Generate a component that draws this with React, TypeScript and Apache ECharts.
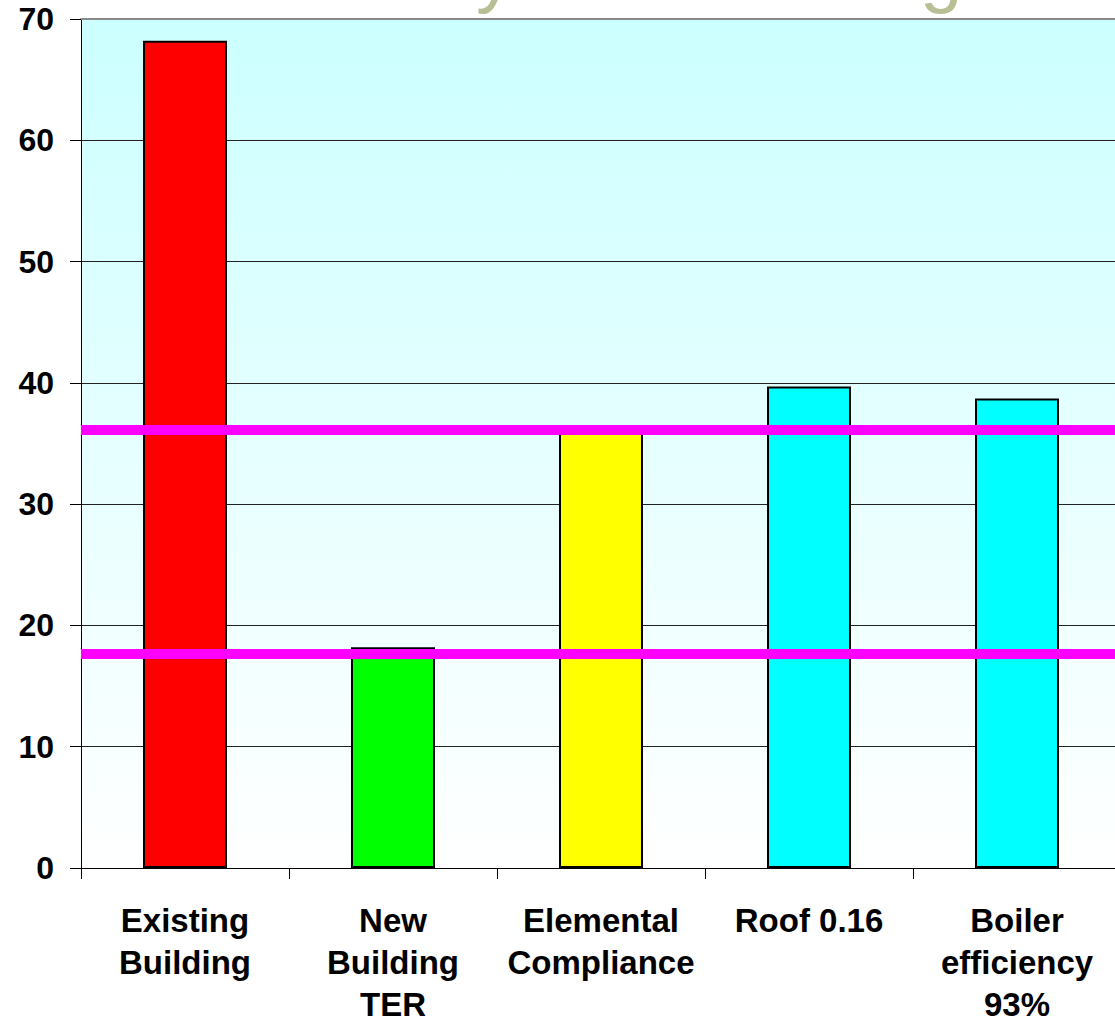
import React, { useEffect, useRef } from "react";
import * as echarts from "echarts";

const categories = ["Existing\nBuilding", "New\nBuilding\nTER", "Elemental\nCompliance", "Roof 0.16", "Boiler\nefficiency\n93%"];
const values = [68.2, 18.2, 36.2, 39.7, 38.7];
const barColors = ["#ff0000", "#00ff00", "#ffff00", "#00ffff", "#00ffff"];
const targetLines = [36.15, 17.7];
const titleGlyphs = ["y", "g"];

export default function App() {
  const ref = useRef<HTMLDivElement>(null);
  useEffect(() => {
    if (!ref.current) return;
    const chart = echarts.init(ref.current, null, { renderer: "svg" });
    const font = "'Liberation Sans', Arial, sans-serif";
    chart.setOption({
      animation: false,
      backgroundColor: "#ffffff",
      textStyle: { fontFamily: font },
      grid: {
        left: 81,
        top: 19,
        width: 1040,
        height: 849,
        show: true,
        borderWidth: 0,
        outerBoundsMode: "none",
        containLabel: false,
        backgroundColor: new echarts.graphic.LinearGradient(0, 0, 0, 1, [
          { offset: 0, color: "#ccffff" },
          { offset: 1, color: "#ffffff" },
        ]),
      },
      graphic: [
        {
          type: "text",
          left: 476,
          top: -67,
          z: 0,
          style: { text: titleGlyphs[0], font: `76px ${font}`, fill: "#b8bf94" },
        },
        {
          type: "text",
          left: 920,
          top: -67,
          z: 0,
          style: { text: titleGlyphs[1], font: `76px ${font}`, fill: "#b8bf94" },
        },
      ],
      xAxis: [
        {
          type: "category",
          data: categories,
          axisLine: { lineStyle: { color: "#000", width: 1 } },
          axisTick: { show: true, length: 11, lineStyle: { color: "#000" } },
          axisLabel: {
            interval: 0,
            margin: 31,
            color: "#000",
            fontSize: 33,
            fontWeight: "bold",
            fontFamily: font,
            lineHeight: 42,
          },
        },
        {
          type: "category",
          position: "top",
          data: categories,
          axisLine: { show: true, lineStyle: { color: "#888", width: 2 } },
          axisTick: { show: false },
          axisLabel: { show: false },
        },
      ],
      yAxis: {
        type: "value",
        min: 0,
        max: 70,
        interval: 10,
        axisLine: { show: true, lineStyle: { color: "#000", width: 1 } },
        axisTick: { show: true, length: 11, lineStyle: { color: "#000" } },
        splitLine: { show: true, lineStyle: { color: "#222", width: 1 } },
        axisLabel: {
          margin: 27,
          color: "#000",
          fontSize: 32,
          fontWeight: "bold",
          fontFamily: font,
        },
      },
      series: [
        {
          type: "bar",
          barWidth: 84,
          data: values.map((v, i) => ({
            value: v,
            itemStyle: { color: barColors[i], borderColor: "#000", borderWidth: 2 },
          })),
          markLine: {
            silent: true,
            symbol: "none",
            label: { show: false },
            lineStyle: { color: "#ff00ff", width: 10, type: "solid" },
            data: targetLines.map((y) => ({ yAxis: y })),
          },
        },
      ],
    });
    return () => chart.dispose();
  }, []);
  return (
    <div
      ref={ref}
      style={{ position: "fixed", left: 0, top: 0, width: 1115, height: 1023 }}
    />
  );
}
